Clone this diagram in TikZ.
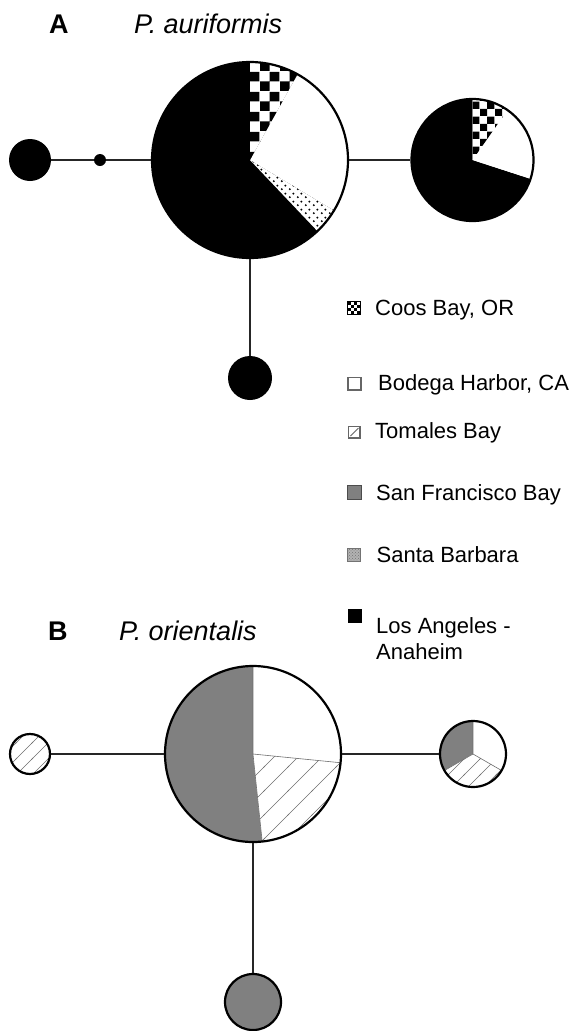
\documentclass[tikz,border=0pt]{standalone}
\usepackage{fontspec}
\setmainfont{Liberation Sans}
\usetikzlibrary{patterns}

\pgfdeclarepatternformonly{checkbig}{\pgfpointorigin}{\pgfpoint{20pt}{20pt}}{\pgfpoint{20pt}{20pt}}{%
 \pgfpathrectangle{\pgfpointorigin}{\pgfpoint{10pt}{10pt}}%
 \pgfpathrectangle{\pgfpoint{10pt}{10pt}}{\pgfpoint{10pt}{10pt}}%
 \pgfusepath{fill}}
\pgfdeclarepatternformonly{checksmall}{\pgfpointorigin}{\pgfpoint{15pt}{15pt}}{\pgfpoint{15pt}{15pt}}{%
 \pgfpathrectangle{\pgfpointorigin}{\pgfpoint{7.5pt}{7.5pt}}%
 \pgfpathrectangle{\pgfpoint{7.5pt}{7.5pt}}{\pgfpoint{7.5pt}{7.5pt}}%
 \pgfusepath{fill}}
\pgfdeclarepatternformonly{sbdots}{\pgfpointorigin}{\pgfpoint{8pt}{8pt}}{\pgfpoint{8pt}{8pt}}{%
 \pgfpathcircle{\pgfpoint{2pt}{2pt}}{1.2pt}%
 \pgfpathcircle{\pgfpoint{6pt}{6pt}}{1.2pt}%
 \pgfusepath{fill}}
\pgfdeclarepatternformonly{hatchbig}{\pgfpoint{-1pt}{-1pt}}{\pgfpoint{25pt}{25pt}}{\pgfpoint{24pt}{24pt}}{%
 \pgfsetlinewidth{0.7pt}%
 \pgfpathmoveto{\pgfpoint{-1pt}{-1pt}}\pgfpathlineto{\pgfpoint{25pt}{25pt}}%
 \pgfusepath{stroke}}
\pgfdeclarepatternformonly{hatchsmall}{\pgfpoint{-1pt}{-1pt}}{\pgfpoint{17pt}{17pt}}{\pgfpoint{16pt}{16pt}}{%
 \pgfsetlinewidth{0.7pt}%
 \pgfpathmoveto{\pgfpoint{-1pt}{-1pt}}\pgfpathlineto{\pgfpoint{17pt}{17pt}}%
 \pgfusepath{stroke}}

\definecolor{sfgrey}{RGB}{128,128,128}
\definecolor{hatchgrey}{RGB}{110,110,110}

% #1 centre, #2 radius, #3 start angle, #4 end angle (visual, ccw), #5 style
\newcommand\myslice[5]{\path[#5] (#1) -- ++(-#3:#2) arc[start angle=-#3, end angle=-#4, radius=#2] -- cycle;}

\begin{document}
\begin{tikzpicture}[x=1pt,y=-1pt,
  conn/.style={line width=1.8pt, black!85},
  outl/.style={circle, draw, line width=2.2pt, inner sep=0pt},
  solid/.style={circle, fill=black, inner sep=0pt},
  leg/.style={anchor=base west, inner sep=0pt, font=\fontsize{22pt}{26pt}\selectfont},
  ttlb/.style={anchor=base west, inner sep=0pt, font=\fontsize{27pt}{32pt}\selectfont\bfseries},
  ttli/.style={anchor=base west, inner sep=0pt, font=\fontsize{27pt}{32pt}\selectfont\itshape},
  sep/.style={draw=hatchgrey, line width=0.6pt}]
\useasboundingbox (0,0) rectangle (572,1031);

% ---------- Panel A ----------
\node[ttlb] (labA) at (49,33) {A};
\node[ttli] (titA) at (134,33) {P. auriformis};

\coordinate (cA) at (250,160);
\myslice{cA}{98}{-46.5}{90}{fill=black}
\myslice{cA}{98}{90}{313.5}{fill=black}
\myslice{cA}{98}{-31}{61}{fill=white}
\myslice{cA}{98}{61}{90}{fill=white}
\myslice{cA}{98}{61}{90}{pattern=checkbig}
\myslice{cA}{98}{-46.5}{-31}{fill=white}
\myslice{cA}{98}{-46.5}{-31}{pattern=sbdots}
\node[outl, minimum size=196pt] (pA) at (cA) {};

\coordinate (cR) at (472.5,160);
\myslice{cR}{61}{90}{342}{fill=black}
\myslice{cR}{61}{-18}{55}{fill=white}
\myslice{cR}{61}{55}{90}{fill=white}
\myslice{cR}{61}{55}{90}{pattern=checksmall}
\node[outl, minimum size=122pt] (rA) at (cR) {};

\node[solid, minimum size=42pt] (lA) at (30,160) {};
\node[solid, minimum size=12pt] (dA) at (100,160) {};
\node[solid, minimum size=44pt] (bA) at (250,378) {};

\draw[conn] (lA) -- (dA);
\draw[conn] (dA) -- (pA);
\draw[conn] (pA) -- (rA);
\draw[conn] (pA) -- (bA);

% ---------- Legend ----------
\foreach \i in {0,...,3}{\foreach \j in {0,...,3}{%
  \pgfmathtruncatemacro\odd{mod(\i+\j,2)}%
  \ifnum\odd=0 \fill (347.5+3.1*\i,301.5+3.1*\j) rectangle ++(3.1,3.1);\fi}}
\draw[line width=0.8pt] (347.5,301.5) rectangle ++(12.4,12.4);
\node[leg] (tCoos) at (375,315) {Coos Bay, OR};

\draw[fill=white, draw=black!60, line width=1.1pt] (348,377.5) rectangle (361,390);
\node[leg] (tBod) at (378,390) {Bodega Harbor, CA};

\draw[fill=white, draw=black!60, line width=1.1pt] (348.5,426.5) rectangle (360,438);
\draw[black!60, line width=0.8pt] (350.5,436) -- (358.5,428);
\node[leg] (tTom) at (375,438) {Tomales Bay};

\draw[fill=sfgrey, draw=black!70, line width=0.8pt] (347.5,485.5) rectangle (361.5,499.5);
\node[leg] (tSF) at (376,500) {San Francisco Bay};

\draw[fill=black!30, draw=black!55, line width=0.8pt] (347.5,548.5) rectangle (360,561.5);
\fill[pattern=crosshatch dots, pattern color=black!55] (347.5,548.5) rectangle (360,561.5);
\node[leg] (tSB) at (376.5,562) {Santa Barbara};

\fill (347.5,608.5) rectangle (361.5,622.5);
\node[leg] (tLA) at (376,633) {Los Angeles -};
\node[leg] (tLA2) at (376,659) {Anaheim};

% ---------- Panel B ----------
\node[ttlb] (labB) at (48,640) {B};
\node[ttli] (titB) at (119,640) {P. orientalis};

\coordinate (cB) at (253,754);
\myslice{cB}{88}{90}{276}{fill=sfgrey}
\myslice{cB}{88}{-5.7}{90}{fill=white}
\myslice{cB}{88}{-84}{-5.7}{fill=white}
\myslice{cB}{88}{-84}{-5.7}{pattern=hatchbig, pattern color=hatchgrey}
\draw[sep] (253,666) -- (cB) -- ++(5.7:88);
\draw[sep] (cB) -- ++(84:88);
\node[outl, minimum size=176pt] (pB) at (cB) {};

\coordinate (cS) at (473,754);
\myslice{cS}{33}{90}{210}{fill=sfgrey}
\myslice{cS}{33}{-30}{90}{fill=white}
\myslice{cS}{33}{210}{330}{fill=white}
\myslice{cS}{33}{210}{330}{pattern=hatchsmall, pattern color=hatchgrey}
\draw[sep] (473,721) -- (cS) -- ++(-210:33);
\draw[sep] (cS) -- ++(-330:33);
\node[outl, minimum size=66pt] (sB) at (cS) {};

\coordinate (cL) at (30,754);
\fill[white] (cL) circle[radius=20];
\fill[pattern=hatchsmall, pattern color=hatchgrey] (cL) circle[radius=20];
\node[outl, minimum size=40pt] (lB) at (cL) {};

\node[outl, fill=sfgrey, minimum size=56pt] (bB) at (253,1002) {};

\draw[conn] (lB) -- (pB);
\draw[conn] (pB) -- (sB);
\draw[conn] (pB) -- (bB);
\end{tikzpicture}
\end{document}
